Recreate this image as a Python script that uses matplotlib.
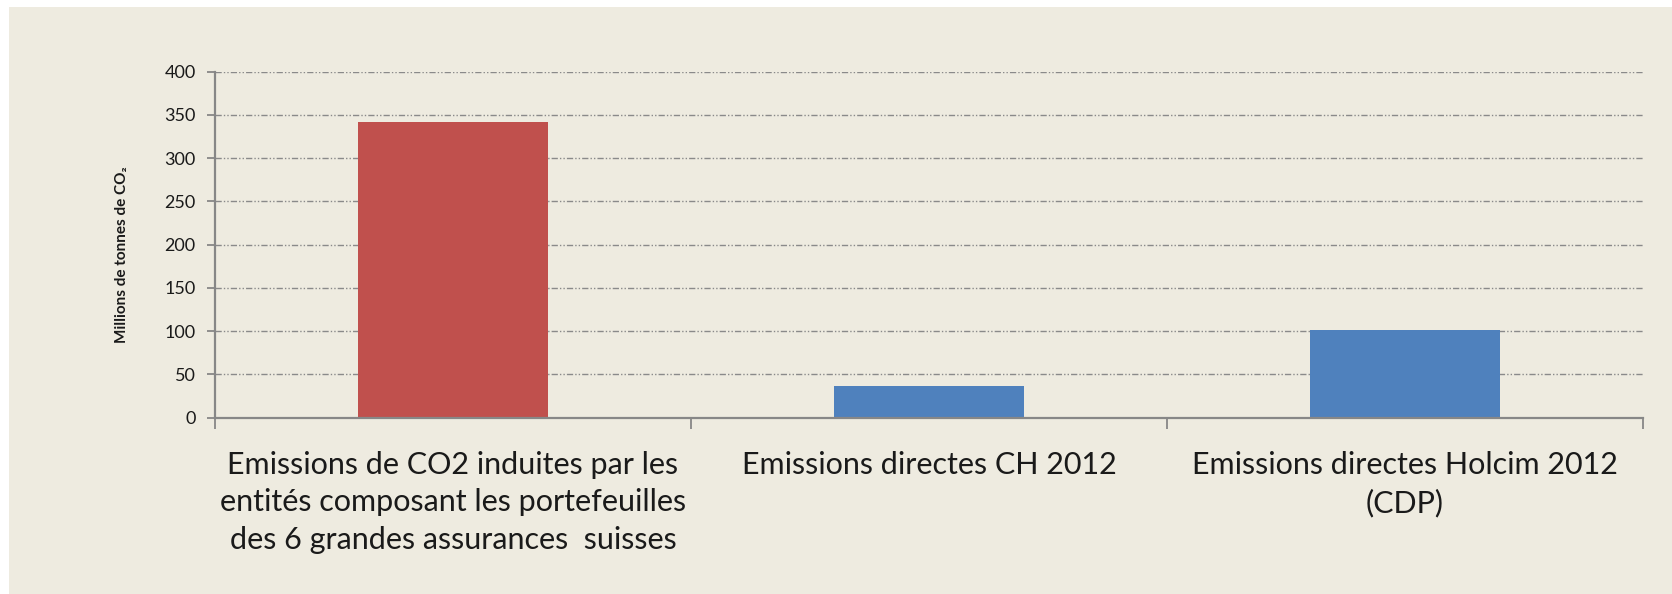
import matplotlib
matplotlib.use("Agg")
import matplotlib.pyplot as plt
from matplotlib.patches import Rectangle

# Data
categories = [
    "Emissions de CO2 induites par les\nentités composant les portefeuilles\ndes 6 grandes assurances  suisses",
    "Emissions directes CH 2012",
    "Emissions directes Holcim 2012\n(CDP)",
]
values = [342, 36, 101]
bar_colors = ["#C0504D", "#4F81BD", "#4F81BD"]
yticks = [0, 50, 100, 150, 200, 250, 300, 350, 400]
ylabel = "Millions de tonnes de CO\u2082"

bg = "#EEEBE0"
axis_gray = "#878787"

plt.rcParams["font.family"] = ["Lato", "DejaVu Sans"]
plt.rcParams["lines.scale_dashes"] = False

fig = plt.figure(figsize=(16.72, 5.94), dpi=100)
fig.patch.set_facecolor("white")
# beige panel with thin white margin at top and left
panel = Rectangle((9 / 1672, 0), 1 - 9 / 1672, 1 - 7 / 594,
                  transform=fig.transFigure, facecolor=bg,
                  edgecolor="none", zorder=-10)
fig.add_artist(panel)

ax = fig.add_axes([215 / 1672, 1 - 417.5 / 594, (1643 - 215) / 1672, (417.5 - 71.7) / 594])
ax.set_facecolor("none")
ax.set_zorder(1)

x = range(len(values))
ax.bar(x, values, width=0.40, color=bar_colors, zorder=3)

ax.set_xlim(-0.5, len(values) - 0.5)
ax.set_ylim(0, 400)
ax.set_yticks(yticks)
ax.set_yticklabels([str(t) for t in yticks], fontsize=13, color="#1a1a1a")

# category boundaries as major ticks, labels at centers
ax.set_xticks([i - 0.5 for i in range(len(values) + 1)])
ax.set_xticklabels([])
ax.set_xticks(list(x), minor=True)
ax.set_xticklabels(categories, minor=True, fontsize=22, color="#1a1a1a",
                   linespacing=1.42, va="top")
ax.tick_params(axis="x", which="minor", length=0, pad=24)
ax.tick_params(axis="x", which="major", length=8, width=1.3, color=axis_gray)
ax.tick_params(axis="y", length=6, width=1.3, color=axis_gray, pad=8)

for t in yticks[1:]:
    gl = ax.axhline(t, color="#8A8A8A", linewidth=1.0, zorder=1)
    gl.set_dashes((4.5, 1.5, 1, 1.5, 1, 1.5))

for side in ["top", "right"]:
    ax.spines[side].set_visible(False)
for side in ["left", "bottom"]:
    ax.spines[side].set_color(axis_gray)
    ax.spines[side].set_linewidth(1.6)
    ax.spines[side].set_zorder(4)

fig.text(122 / 1672, 1 - 255 / 594, ylabel, rotation=90, ha="center", va="center",
         fontsize=11, fontweight="bold", color="#1a1a1a")

fig.savefig("out.png", dpi=100, facecolor=fig.get_facecolor())
